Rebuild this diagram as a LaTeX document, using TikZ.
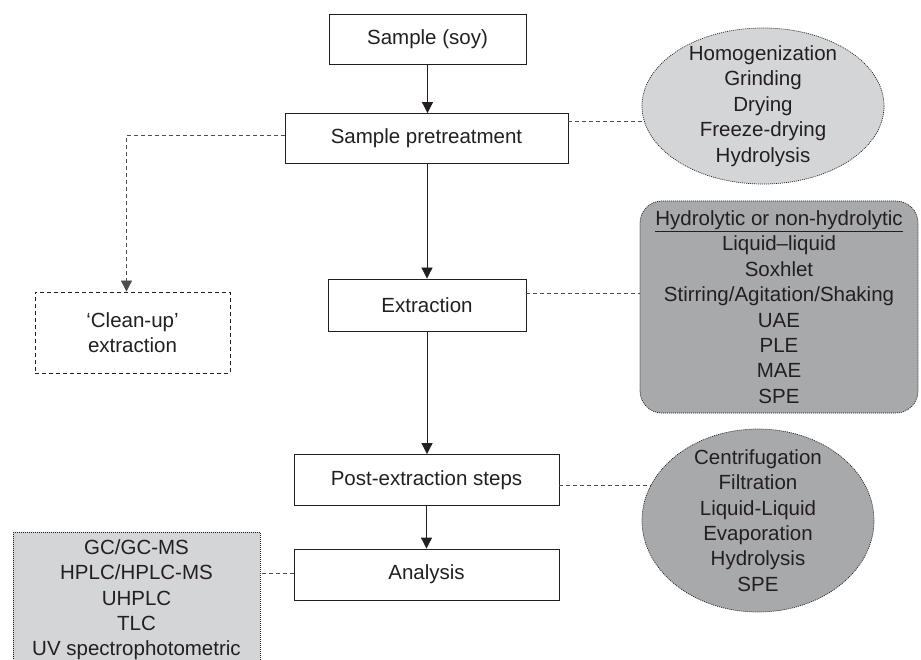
\documentclass[tikz,border=0pt]{standalone}
\usepackage{fontspec}
\setmainfont{Liberation Sans}
\usetikzlibrary{arrows.meta}
\definecolor{ink}{HTML}{231F20}
\definecolor{lightfill}{HTML}{D4D5D7}
\definecolor{darkfill}{HTML}{A8A9AB}
\begin{document}
\begin{tikzpicture}[x=1pt,y=-1pt,
  font=\fontsize{20.5}{25.4}\selectfont,
  every node/.style={text=ink},
  stepbox/.style={draw=ink, line width=0.8pt, rectangle, inner sep=0pt},
  flow/.style={draw=ink, line width=0.8pt, -{Triangle[length=11pt,width=11pt]}},
  link/.style={draw=ink!80, line width=0.8pt, dash pattern=on 4pt off 3pt},
  dotbord/.style={draw=ink, line width=0.7pt, dash pattern=on 1pt off 1pt},
  listnode/.style={align=center, inner sep=0pt}]
\useasboundingbox (0,0) rectangle (921,660);
\clip (0,0) rectangle (921,660);

% main flow boxes
\node[stepbox, minimum width=197pt, minimum height=50pt] (soy) at (427.5,39) {Sample (soy)};
\node[stepbox, minimum width=283pt, minimum height=50pt] (pre) at (426.5,138.5) {Sample pretreatment};
\node[stepbox, minimum width=198pt, minimum height=52pt] (ext) at (427,305) {Extraction};
\node[stepbox, minimum width=265pt, minimum height=51pt] (post) at (426.5,480) {Post-extraction steps};
\node[stepbox, minimum width=265pt, minimum height=51pt] (ana) at (426.5,574.5) {Analysis};

% clean-up box
\node[draw=ink, line width=0.8pt, dash pattern=on 4pt off 3pt, minimum width=195pt, minimum height=81pt, align=center, inner sep=0pt] (clean) at (132.5,332.5) {`Clean-up'\\extraction};

% side shapes
\coordinate (c1) at (763,106);
\draw[dotbord, fill=lightfill] (c1) ellipse [x radius=121, y radius=78];
\node[listnode] (ell1) at (c1) {Homogenization\\Grinding\\Drying\\Freeze-drying\\Hydrolysis};

\node[rectangle, rounded corners=22pt, dotbord, fill=darkfill, minimum width=278pt, minimum height=212pt, listnode] (rr) at (779,307)
  {\underline{Hydrolytic or non-hydrolytic}\\Liquid--liquid\\Soxhlet\\Stirring/Agitation/Shaking\\UAE\\PLE\\MAE\\SPE};

\coordinate (c3) at (758,520.5);
\draw[dotbord, fill=darkfill] (c3) ellipse [x radius=116, y radius=91.5];
\node[listnode] (ell3) at (c3) {Centrifugation\\Filtration\\Liquid-Liquid\\Evaporation\\Hydrolysis\\SPE};

\node[rectangle, dotbord, fill=lightfill, minimum width=247pt, anchor=north, inner xsep=0pt, inner ysep=7pt, align=center] (gc) at (136.5,532)
  {GC/GC-MS\\HPLC/HPLC-MS\\UHPLC\\TLC\\UV spectrophotometric};

% flow arrows
\draw[flow] (soy.south) -- (soy.south |- pre.north);
\draw[flow] (ext.north |- pre.south) -- (ext.north);
\draw[flow] (ext.south) -- (ext.south |- post.north);
\draw[flow] (post.south) -- (post.south |- ana.north);
\draw[link, -{Triangle[length=11pt,width=11pt]}] ([yshift=3pt]pre.west) -| ([xshift=-6pt]clean.north);

% dashed links to side shapes
\coordinate (e1hit) at (644,121);
\draw[link] ([yshift=17.5pt]pre.east) -- (e1hit);
\draw[link] ([yshift=12pt]ext.east) -- ([yshift=12pt]ext.east -| rr.west);
\coordinate (e3hit) at (651,485);
\draw[link] ([yshift=-5pt]post.east) -- (e3hit);
\draw[link] ([yshift=1pt]ana.west) -- ([yshift=1pt]ana.west -| gc.east);
\end{tikzpicture}
\end{document}
